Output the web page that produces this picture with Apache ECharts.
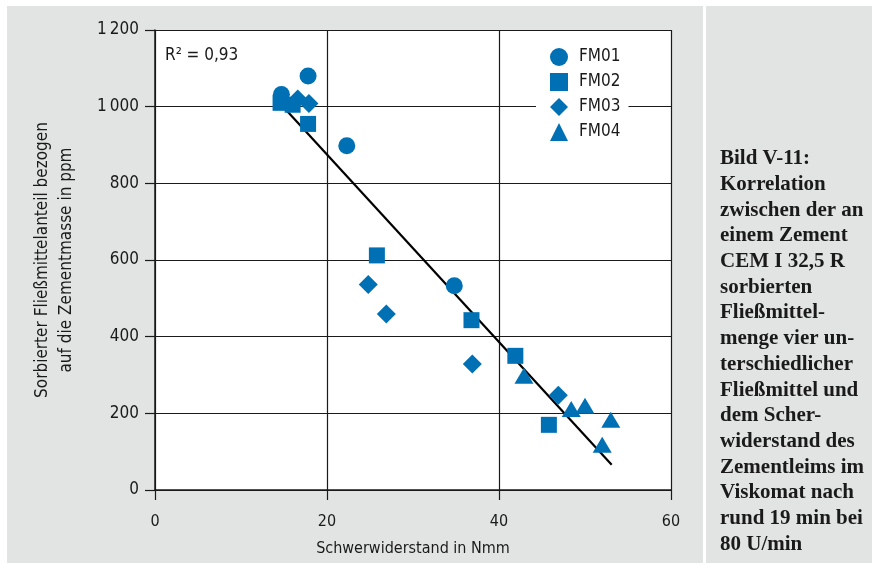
<!DOCTYPE html>
<html>
<head>
<meta charset="utf-8">
<script src="https://cdn.jsdelivr.net/npm/echarts@6/dist/echarts.min.js"></script>
<style>
html,body{margin:0;padding:0;background:#fff;}
#bg{position:absolute;left:7px;top:6px;width:696px;height:557px;background:#e2e4e3;}
#bg2{position:absolute;left:706px;top:6px;width:166px;height:557px;background:#e2e4e3;}
#chart{position:absolute;left:0;top:0;width:872px;height:564px;}
</style>
</head>
<body>
<div id="bg"></div><div id="bg2"></div>
<div id="chart"></div>
<script>
// Data
const seriesNames = ['FM01', 'FM02', 'FM03', 'FM04'];
const fm01 = [[14.7, 1032], [17.8, 1080], [22.3, 898], [34.8, 533]];
const fm02 = [[14.6, 1010], [16.0, 1005], [17.8, 955], [25.8, 612], [36.8, 443], [41.9, 350], [45.8, 170]];
const fm03 = [[16.6, 1020], [17.9, 1008], [24.8, 536], [26.9, 459], [36.9, 329], [46.9, 247]];
const fm04 = [[42.9, 298], [48.4, 211], [50.0, 220], [52.0, 118], [53.0, 183]];
const trend = [[15.3, 990], [53.1, 66]];
const xTicks = [0, 20, 40, 60];
const yTicks = [0, 200, 400, 600, 800, 1000, 1200];
const r2Text = 'R\u00b2 = 0,93';
const captionLines = ['Bild V-11:', 'Korrelation', 'zwischen der an', 'einem Zement', 'CEM I 32,5 R',
  'sorbierten', 'Fließmittel-', 'menge vier un-', 'terschiedlicher', 'Fließmittel und', 'dem Scher-',
  'widerstand des', 'Zementleims im', 'Viskomat nach', 'rund 19 min bei', '80 U/min'];

const blue = '#0070b4';
const narrow = '"Liberation Sans Narrow", "DejaVu Sans Condensed", "Roboto Condensed", sans-serif';
const fmtTick = v => v >= 1000 ? String(v).replace(/(\d)(\d{3})$/, '$1\u2009$2') : String(v);

const chart = echarts.init(document.getElementById('chart'), null, {renderer: 'canvas'});
const symbols = ['circle', 'rect', 'diamond', 'triangle'];
const sizes = [17, 16, [19, 19], [19, 16]];
const datasets = [fm01, fm02, fm03, fm04];

chart.setOption({
  animation: false,
  backgroundColor: 'transparent',
  grid: {left: 155, right: 201, top: 30, bottom: 74, show: true, backgroundColor: '#fff', borderWidth: 0},
  legend: {
    orient: 'vertical', left: 536, top: 44, backgroundColor: '#fff',
    padding: [4, 8, 4, 14], itemGap: 7, itemWidth: 18, itemHeight: 18,
    textStyle: {fontFamily: narrow, fontSize: 17, color: '#1a1a1a', padding: [0, 0, 0, 6]},
    data: seriesNames.map((n, i) => ({name: n, icon: symbols[i]}))
  },
  xAxis: {
    type: 'value', min: xTicks[0], max: xTicks[xTicks.length - 1], interval: 20,
    name: 'Schwerwiderstand in Nmm', nameLocation: 'middle', nameGap: 51,
    nameTextStyle: {fontFamily: narrow, fontSize: 16, color: '#1a1a1a'},
    axisLine: {show: true, lineStyle: {color: '#1a1a1a', width: 1.5}},
    axisTick: {show: true, inside: false, length: 10, lineStyle: {color: '#1a1a1a', width: 1.2}},
    axisLabel: {fontFamily: narrow, fontSize: 16, color: '#1a1a1a', margin: 24, formatter: fmtTick},
    splitLine: {show: true, lineStyle: {color: '#1a1a1a', width: 1.2}}
  },
  yAxis: {
    type: 'value', min: yTicks[0], max: yTicks[yTicks.length - 1], interval: 200,
    name: 'Sorbierter Fließmittelanteil bezogen\nauf die Zementmasse in ppm',
    nameLocation: 'middle', nameGap: 76,
    nameTextStyle: {fontFamily: narrow, fontSize: 17, color: '#1a1a1a', lineHeight: 24},
    axisLine: {show: true, lineStyle: {color: '#1a1a1a', width: 1.5}},
    axisTick: {show: true, inside: false, length: 10, lineStyle: {color: '#1a1a1a', width: 1.2}},
    axisLabel: {fontFamily: narrow, fontSize: 17, color: '#1a1a1a', margin: 16, formatter: fmtTick},
    splitLine: {show: true, lineStyle: {color: '#1a1a1a', width: 1.2}}
  },
  graphic: [
    {type: 'text', left: 165, top: 47, style: {text: r2Text, font: '17px ' + narrow, fill: '#1a1a1a'}},
    {type: 'text', left: 720, top: 146, style: {
      text: captionLines.join('\n'), font: 'bold 21px "Liberation Serif", "DejaVu Serif", serif',
      lineHeight: 25.7, fill: '#1a1a1a'}}
  ],
  series: [
    {type: 'line', name: 'trend', data: trend, symbol: 'none', z: 1,
     lineStyle: {color: '#000', width: 2.2}, silent: true},
  ].concat(datasets.map((d, i) => ({
    type: 'scatter', name: seriesNames[i], data: d, symbol: symbols[i], symbolSize: sizes[i],
    itemStyle: {color: blue, opacity: 1}, z: 3
  })))
});
</script>
</body>
</html>
